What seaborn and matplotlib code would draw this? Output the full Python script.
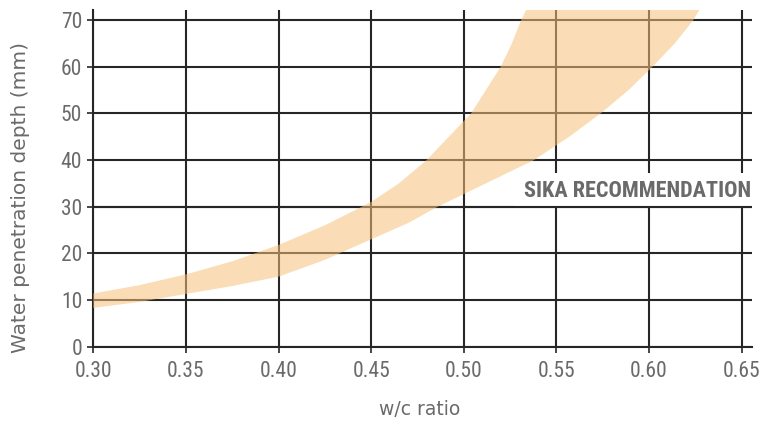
import matplotlib
matplotlib.use("Agg")
import matplotlib.pyplot as plt
import seaborn as sns
import pandas as pd
from matplotlib import font_manager

# Data
upper_x = [0.30, 0.325, 0.35, 0.375, 0.40, 0.425, 0.45, 0.465, 0.48, 0.492, 0.504, 0.512, 0.52, 0.526, 0.531, 0.536]
upper_y = [11.4, 13.2, 15.5, 18.3, 21.8, 26.0, 31.0, 35.0, 40, 45, 50, 55, 60, 65, 70, 74]
lower_x = [0.30, 0.325, 0.35, 0.375, 0.40, 0.425, 0.45, 0.47, 0.486, 0.512, 0.538, 0.557, 0.574, 0.589, 0.602, 0.614, 0.624, 0.630]
lower_y = [8.3, 9.6, 11.3, 13.0, 15.0, 18.6, 23.0, 26.5, 30, 35, 40, 45, 50, 55, 60, 65, 70, 74]
x_ticks = [0.30, 0.35, 0.40, 0.45, 0.50, 0.55, 0.60, 0.65]
x_tick_labels = ["0.30", "0.35", "0.40", "0.45", "0.50", "0.55", "0.60", "0.65"]
y_ticks = [0, 10, 20, 30, 40, 50, 60, 70]
annotation = "SIKA RECOMMENDATION"
x_label = "w/c ratio"
y_label = "Water penetration depth (mm)"

sns.set_theme(style="white")
available = {f.name for f in font_manager.fontManager.ttflist}
narrow = None
for cand in ["Roboto Condensed", "DejaVu Sans Condensed", "Liberation Sans Narrow"]:
    if cand in available:
        narrow = cand
        break
fams = ([narrow] if narrow else []) + ["DejaVu Sans"]
plt.rcParams["font.family"] = fams

fig = plt.figure(figsize=(7.63, 4.24), dpi=100)
ax = fig.add_axes([0.1223, 0.1823, 0.985 - 0.1223, 0.976 - 0.1823])

grid_col = "#262626"
text_col = "#6a6a6a"

ax.set_xlim(0.30, 0.6554)
ax.set_ylim(0, 72.1)
ax.set_xticks(x_ticks)
ax.set_xticklabels(x_tick_labels)
ax.set_yticks(y_ticks)

ax.grid(True, color=grid_col, linewidth=1.5, zorder=1)
ax.set_axisbelow(True)
for s in ["top", "right"]:
    ax.spines[s].set_visible(False)
for s in ["left", "bottom"]:
    ax.spines[s].set_color(grid_col)
    ax.spines[s].set_linewidth(1.5)

tick_size = 15.5 if narrow else 12.5
ax.tick_params(axis="both", which="major", length=4, width=1.2, color=grid_col,
               labelsize=tick_size, labelcolor=text_col, direction="out",
               left=True, bottom=True)
ax.tick_params(axis="x", pad=6)
ax.tick_params(axis="y", pad=4)

# Band boundaries through seaborn (invisible), fill polygon
up = pd.DataFrame({"x": upper_x, "y": upper_y})
lo = pd.DataFrame({"x": lower_x, "y": lower_y})
sns.lineplot(data=up, x="x", y="y", ax=ax, linewidth=0, sort=False)
sns.lineplot(data=lo, x="x", y="y", ax=ax, linewidth=0, sort=False)
poly_x = upper_x + lower_x[::-1]
poly_y = upper_y + lower_y[::-1]
ax.fill(poly_x, poly_y, color="#F7C27A", alpha=0.55, linewidth=0, zorder=3)

# White box behind the annotation
ax.axhspan(30.0, 37.3, xmin=(0.527 - 0.30) / 0.3554, xmax=1.0, color="white", zorder=2, linewidth=0)
ax.axhline(30, color=grid_col, linewidth=1.5, zorder=2.5)
ax.text(0.6554, 33.3, annotation, ha="right", va="center", fontsize=16 if narrow else 11.5,
        fontweight="bold", color=text_col, zorder=4)

ax.set_xlabel(x_label, fontsize=13.5, color=text_col, family="DejaVu Sans")
ax.set_ylabel(y_label, fontsize=14.5, color=text_col, family="DejaVu Sans")
ax.xaxis.set_label_coords((420 - 93.3) / 658.4, (346.7 - 400) / 336.7)
ax.yaxis.set_label_coords((30 - 93.3) / 658.4, (346.7 - 197.5) / 336.7)

fig.savefig("out.png", dpi=100)
